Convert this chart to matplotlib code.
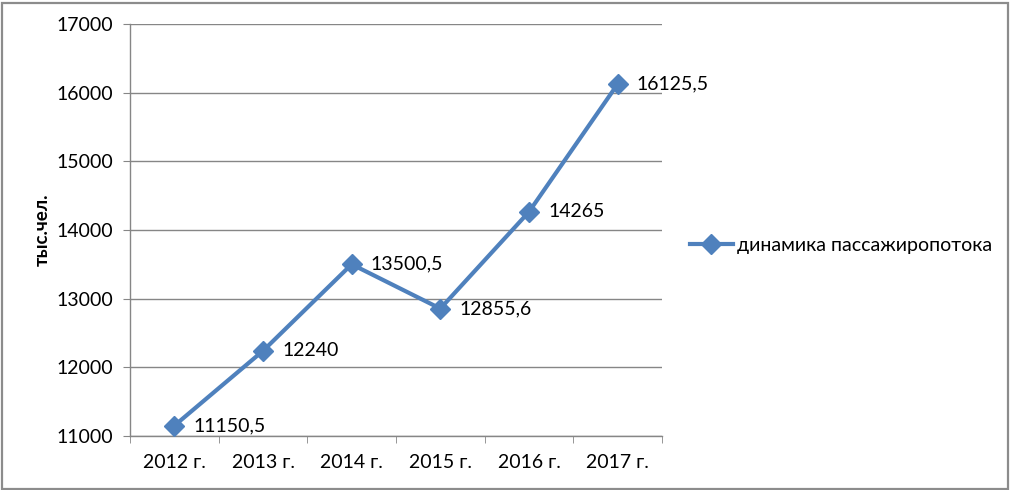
import matplotlib
matplotlib.use("Agg")
import matplotlib.pyplot as plt
from matplotlib.patches import Rectangle

years = ["2012 г.", "2013 г.", "2014 г.", "2015 г.", "2016 г.", "2017 г."]
values = [11150.5, 12240, 13500.5, 12855.6, 14265, 16125.5]
labels = ["11150,5", "12240", "13500,5", "12855,6", "14265", "16125,5"]
yticks = [11000, 12000, 13000, 14000, 15000, 16000, 17000]
series_name = "динамика пассажиропотока"
ylabel = "тыс.чел."

plt.rcParams['font.family'] = ['Lato', 'DejaVu Sans']
W, H = 1011, 490
fig = plt.figure(figsize=(W/100, H/100), dpi=100)
fig.patches.append(Rectangle((1.5/W, 1.5/H), 1 - 4.5/W, 1 - 4.5/H, transform=fig.transFigure,
                             fill=False, edgecolor='#8c8c8c', linewidth=1.6))
ax = fig.add_axes([130/W, (H-436)/H, (662-130)/W, (436-24)/H])

color = '#4F81BD'
x = list(range(len(years)))
line, = ax.plot(x, values, color=color, linewidth=3, marker='D', markersize=10.5,
                markeredgecolor=color, markerfacecolor=color, label=series_name, zorder=3)
for xi, v, t in zip(x, values, labels):
    ax.annotate(t, (xi, v), xytext=(19, 0), textcoords='offset pixels',
                ha='left', va='center', fontsize=14, color='#000000')

ax.set_xlim(-0.5, len(years) - 0.5)
ax.set_ylim(11000, 17000)
ax.set_yticks(yticks)
ax.set_yticklabels([str(t) for t in yticks], fontsize=14)
ax.set_xticks(x)
ax.set_xticklabels(years, fontsize=14)
ax.set_xticks([i - 0.5 for i in range(len(years) + 1)], minor=True)
ax.tick_params(axis='x', which='major', length=0, pad=13)
ax.tick_params(axis='x', which='minor', length=5, color='#868686')
ax.tick_params(axis='y', length=5, color='#868686', pad=7)
ax.grid(axis='y', color='#868686', linewidth=1)
ax.set_axisbelow(True)
for s in ['top', 'right']:
    ax.spines[s].set_visible(False)
for s in ['left', 'bottom']:
    ax.spines[s].set_color('#868686')
    ax.spines[s].set_linewidth(1)

fig.text(42/W, 1 - 230/H, ylabel, rotation=90, ha='center', va='center',
         fontsize=13.5, fontweight='bold')

leg = fig.legend(handles=[line], loc='center left', bbox_to_anchor=(690/W, 1 - 245/H),
                 frameon=False, fontsize=14, handlelength=2.2, handletextpad=0.2,
                 borderaxespad=0, borderpad=0)

fig.savefig("out.png", dpi=100)
